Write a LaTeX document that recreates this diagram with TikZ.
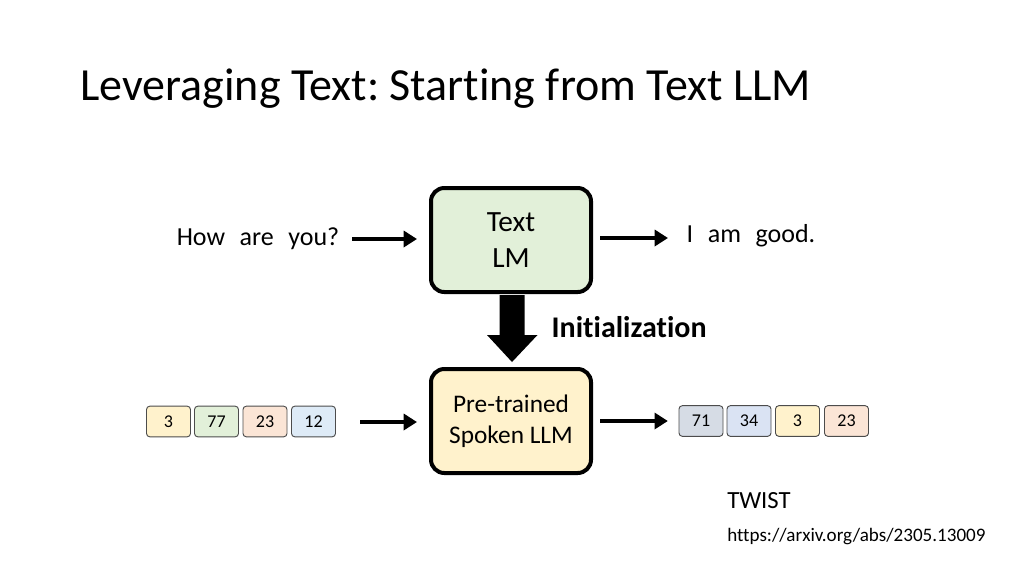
\documentclass[tikz,border=0pt]{standalone}
\usepackage{fontspec}
\setmainfont{Carlito}[Ligatures=NoCommon]
\usetikzlibrary{arrows.meta}
\frenchspacing
\definecolor{lmgreen}{HTML}{E2F0D9}
\definecolor{lmyellow}{HTML}{FFF2CC}
\definecolor{tokpink}{HTML}{FBE5D6}
\definecolor{tokblue}{HTML}{DEEBF7}
\definecolor{tokgray}{HTML}{D6DCE5}
\definecolor{tokblue2}{HTML}{DAE3F3}
\tikzset{
  model/.style={draw=black, line width=3pt, rounded corners=10pt, minimum width=120pt,
    minimum height=78pt, align=center, font=\fontsize{22}{27}\selectfont},
  token/.style={draw=black!70, line width=0.7pt, rounded corners=2.5pt, minimum width=33pt,
    minimum height=23pt, inner sep=0pt, font=\fontsize{13.5}{15}\selectfont},
  feed/.style={line width=3pt, -{Triangle[length=10pt,width=12pt]}},
  word/.style={font=\fontsize{19.5}{22}\selectfont}
}
\begin{document}
\begin{tikzpicture}[x=0.75pt, y=-0.75pt]
\useasboundingbox (0,0) rectangle (1024,576);
%--- Title ---
\node[anchor=base west, inner sep=0pt, font=\fontsize{34.5}{40}\selectfont] (title) at (80,100) {Leveraging Text: Starting from Text LLM};
%--- Text LM row ---
\node[model, fill=lmgreen] (textlm) at (511,240) {Text\\LM};
\node[word] (question) at (258,239) {How\,\, are\,\, you?};
\node[word, anchor=west] (answer) at (682,236) {I\,\, am\,\, good.};
\coordinate (qend) at (352,239);
\coordinate (aend) at (600,238);
\draw[feed, shorten >=9pt] (qend) -- (qend -| textlm.west);
\draw[feed, shorten >=10.5pt] (aend) -- (aend -| answer.west);
%--- Initialization arrow ---
\coordinate (init) at (512,295);
\fill (init) ++(-12.5,0) -- ++(25,0) -- ++(0,40) -- ++(13,0) -- (512,362) -- (487,335) -- (499.5,335) -- cycle;
\node[anchor=west, font=\bfseries\fontsize{22.5}{26}\selectfont] (initlabel) at (547,327) {Initialization};
%--- Spoken LLM row ---
\node[model, fill=lmyellow, font=\fontsize{19}{23}\selectfont] (spoken) at (511,421) {Pre-trained\\Spoken LLM};
\node[token, fill=lmyellow] (in1) at (168.5,421.5) {3};
\node[token, fill=lmgreen] (in2) at (216.5,421.5) {77};
\node[token, fill=tokpink] (in3) at (265,421.5) {23};
\node[token, fill=tokblue] (in4) at (313.5,421.5) {12};
\node[token, fill=tokgray] (out1) at (701,421) {71};
\node[token, fill=tokblue2] (out2) at (749,421) {34};
\node[token, fill=lmyellow] (out3) at (797.5,421) {3};
\node[token, fill=tokpink] (out4) at (846.5,421) {23};
\coordinate (tin) at (360,422);
\coordinate (tout) at (600,421);
\draw[feed, shorten >=9pt] (tin) -- (tin -| spoken.west);
\draw[feed, shorten >=8pt] (tout) -- (tout -| out1.west);
%--- Reference ---
\node[anchor=base west, inner sep=0pt, font=\fontsize{18.5}{22}\selectfont] (twist) at (727,508) {TWIST};
\node[anchor=base west, inner sep=0pt, font=\fontsize{14.3}{17}\selectfont] (link) at (727,541) {https://arxiv.org/abs/2305.13009};
\end{tikzpicture}
\end{document}
